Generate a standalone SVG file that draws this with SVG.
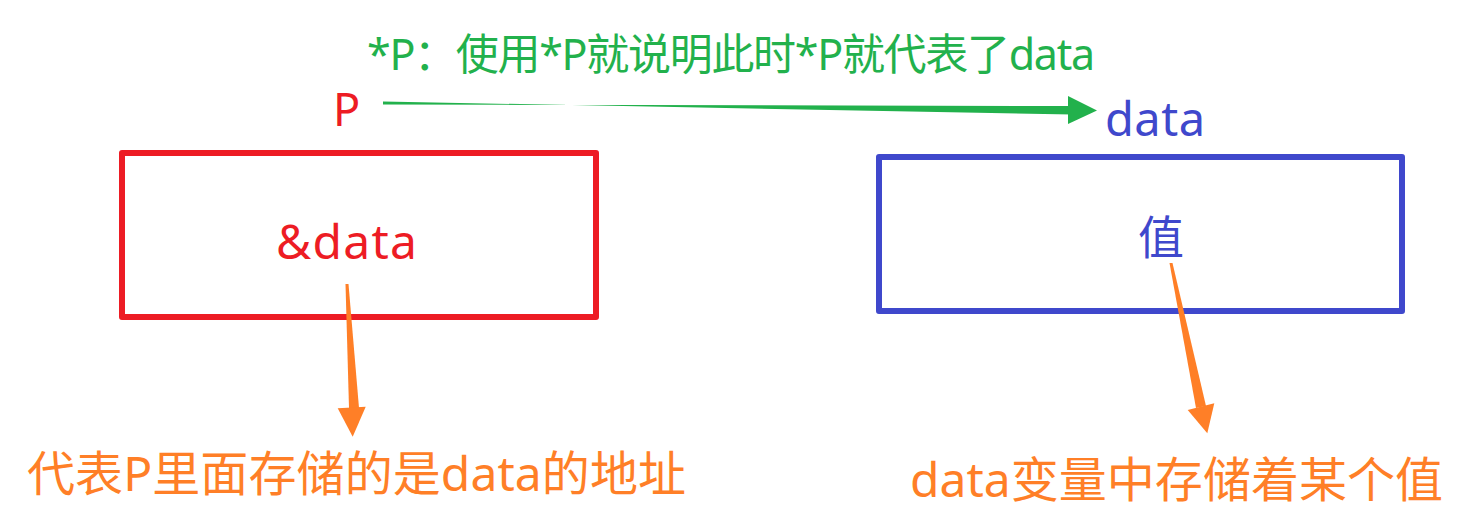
<svg xmlns="http://www.w3.org/2000/svg" width="1466" height="520" viewBox="0 0 1466 520">
<style>
text{font-family:"Noto Sans","Noto Sans CJK SC",sans-serif}
.g{fill:#22B14C}.r{fill:#ED1C24}.b{fill:#3F48CC}.o{fill:#FF7F27}
.box{fill:none;stroke-width:6;stroke-linejoin:round}
</style>
<rect width="1466" height="520" fill="#fff"/>
<g id="title"><text class="g" x="367" y="70" font-size="43" textLength="728" lengthAdjust="spacing">*P：使用*P就说明此时*P就代表了data</text></g>
<g id="p-label"><text class="r" x="333" y="126" font-size="45">P</text></g>
<g id="data-label"><text class="b" x="1105" y="136" font-size="47" textLength="100" lengthAdjust="spacing">data</text></g>
<g id="pointer-box"><rect class="box" x="122" y="153" width="474" height="164" stroke="#ED1C24"/><text class="r" x="276" y="259" font-size="48" textLength="141" lengthAdjust="spacing">&amp;data</text></g>
<g id="value-box"><rect class="box" x="879" y="157" width="523" height="154" stroke="#3F48CC"/><text class="b" x="1138" y="254" font-size="46" font-family="Noto Sans CJK SC, sans-serif">值</text></g>
<g id="note-left"><text class="o" x="27" y="491" font-size="48" textLength="659" lengthAdjust="spacing">代表P里面存储的是data的地址</text></g>
<g id="note-right"><text class="o" x="910" y="497" font-size="48" textLength="533" lengthAdjust="spacing">data变量中存储着某个值</text></g>
<g id="connectors">
<polygon class="g" points="383,101.5 383,104.5 1072,106 1072,114.5"/>
<polygon class="g" points="1068,96 1097,110.5 1068,124"/>
<polygon class="o" points="345.5,284 348.5,284 359,408 349,408"/>
<polygon class="o" points="337.7,408.3 365.7,406.7 352.7,436.7"/>
<polygon class="o" points="1169.5,263 1172.5,263 1206,406 1196,408"/>
<polygon class="o" points="1187.7,410 1214.3,403.3 1207.3,433.3"/>
</g>
</svg>
